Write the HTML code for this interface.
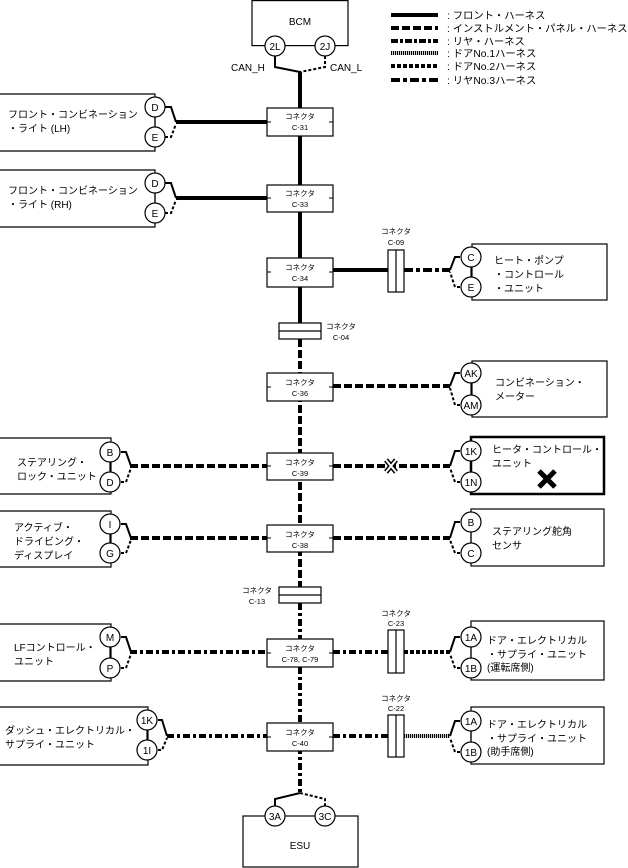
<!DOCTYPE html>
<html><head><meta charset="utf-8"><style>
html,body{margin:0;padding:0;background:#fff}
svg{display:block}
text{font-family:"Liberation Sans","Noto Sans CJK JP",sans-serif;fill:#000}
.t{font-size:10px}
.s{font-size:7.5px}
.c{font-size:10px}
</style></head><body>
<svg width="628" height="868" viewBox="0 0 628 868" xmlns="http://www.w3.org/2000/svg">
<g fill="none" stroke="#000">
<line x1="300" y1="72" x2="300" y2="323" stroke-width="4"/>
<line x1="300" y1="339" x2="300" y2="587" stroke-width="4" stroke-dasharray="8,3"/>
<line x1="300" y1="603" x2="300" y2="793" stroke-width="4" stroke-dasharray="7,3,3,3"/>
<path d="M275,56 V67 L300,72" stroke-width="2"/>
<path d="M325,56 V67 L300,72" stroke-width="2" stroke-dasharray="3,2"/>
<path d="M300,793 L275,799 V806" stroke-width="2"/>
<path d="M300,793 L325,799 V806" stroke-width="2" stroke-dasharray="3,2"/>
<line x1="176" y1="122" x2="267" y2="122" stroke-width="4"/>
<line x1="176" y1="198" x2="267" y2="198" stroke-width="4"/>
<line x1="333" y1="270" x2="388" y2="270" stroke-width="4"/>
<line x1="404" y1="270" x2="450" y2="270" stroke-width="4" stroke-dasharray="9,3,4,3"/>
<line x1="333" y1="386" x2="450" y2="386" stroke-width="4" stroke-dasharray="8,3"/>
<line x1="130" y1="466" x2="267" y2="466" stroke-width="4" stroke-dasharray="8,3"/>
<line x1="333" y1="466" x2="450" y2="466" stroke-width="4" stroke-dasharray="8,3"/>
<line x1="130" y1="538" x2="267" y2="538" stroke-width="4" stroke-dasharray="8,3"/>
<line x1="333" y1="538" x2="450" y2="538" stroke-width="4" stroke-dasharray="8,3"/>
<line x1="130" y1="652" x2="267" y2="652" stroke-width="4" stroke-dasharray="7,3,3,3"/>
<line x1="333" y1="652" x2="388" y2="652" stroke-width="4" stroke-dasharray="7,3,3,3"/>
<line x1="404" y1="652" x2="450" y2="652" stroke-width="4" stroke-dasharray="4,2"/>
<line x1="167" y1="736" x2="267" y2="736" stroke-width="4" stroke-dasharray="7,3,3,3"/>
<line x1="333" y1="736" x2="388" y2="736" stroke-width="4" stroke-dasharray="7,3,3,3"/>
<line x1="404" y1="736" x2="450" y2="736" stroke-width="4" stroke-dasharray="1.2,0.8"/>
<line x1="391" y1="15" x2="438" y2="15" stroke-width="4"/>
<line x1="391" y1="28" x2="438" y2="28" stroke-width="4" stroke-dasharray="8,3"/>
<line x1="391" y1="41" x2="438" y2="41" stroke-width="4" stroke-dasharray="7,2,3,2"/>
<line x1="391" y1="53" x2="438" y2="53" stroke-width="4" stroke-dasharray="1.2,0.8"/>
<line x1="391" y1="66" x2="438" y2="66" stroke-width="4" stroke-dasharray="4,2"/>
<line x1="391" y1="80" x2="438" y2="80" stroke-width="4" stroke-dasharray="9,3,4,3"/>
</g>
<g fill="none" stroke="#000" stroke-width="2">
<path d="M165,107 H171 L176,122"/><path d="M165,137 H171 L176,124" stroke-dasharray="3,2"/>
<path d="M165,183 H171 L176,198"/><path d="M165,213 H171 L176,200" stroke-dasharray="3,2"/>
<path d="M121,452 H126 L131,466"/><path d="M121,482 H126 L131,468" stroke-dasharray="3,2"/>
<path d="M121,524 H126 L131,538"/><path d="M121,553 H126 L131,540" stroke-dasharray="3,2"/>
<path d="M121,637 H126 L131,652"/><path d="M121,668 H126 L131,654" stroke-dasharray="3,2"/>
<path d="M158,720 H162 L167,736"/><path d="M158,750 H162 L167,738" stroke-dasharray="3,2"/>
<path d="M460,257 H455 L450,270"/><path d="M460,287 H455 L450,272" stroke-dasharray="3,2"/>
<path d="M460,373 H455 L450,386"/><path d="M460,405 H455 L450,388" stroke-dasharray="3,2"/>
<path d="M460,451 H455 L450,466"/><path d="M460,482 H455 L450,468" stroke-dasharray="3,2"/>
<path d="M460,522 H455 L450,538"/><path d="M460,553 H455 L450,540" stroke-dasharray="3,2"/>
<path d="M460,637 H455 L450,652"/><path d="M460,668 H455 L450,654" stroke-dasharray="3,2"/>
<path d="M460,721 H455 L450,736"/><path d="M460,752 H455 L450,738" stroke-dasharray="3,2"/>
</g>
<g fill="none" stroke="#000" stroke-width="1.2">
<rect x="252" y="0.6" width="96" height="45"/>
<rect x="243" y="816" width="115" height="51"/>
<path d="M0,94 H155 V151 H0"/>
<path d="M0,170 H155 V227 H0"/>
<path d="M0,438 H111 V494 H0"/>
<path d="M0,511 H111 V567 H0"/>
<path d="M0,624 H111 V681 H0"/>
<path d="M0,707 H148 V765 H0"/>
<rect x="472" y="244" width="135" height="56"/>
<rect x="472" y="361" width="135" height="56"/>
<rect x="471" y="509" width="133" height="57"/>
<rect x="471" y="621" width="133" height="59"/>
<rect x="471" y="707" width="133" height="57"/>
</g>
<rect x="471" y="437" width="133" height="57" fill="none" stroke="#000" stroke-width="2.5"/>
<g stroke="#000" stroke-width="1.2">
<line x1="155" y1="107" x2="155" y2="137"/><line x1="155" y1="183" x2="155" y2="213"/>
<line x1="110" y1="452" x2="110" y2="482"/><line x1="110" y1="524" x2="110" y2="553"/>
<line x1="110" y1="637" x2="110" y2="668"/><line x1="147" y1="720" x2="147" y2="750"/>
<line x1="471" y1="257" x2="471" y2="287"/><line x1="471" y1="373" x2="471" y2="405"/>
<line x1="471" y1="451" x2="471" y2="482"/><line x1="471" y1="522" x2="471" y2="553"/>
<line x1="471" y1="637" x2="471" y2="668"/><line x1="471" y1="721" x2="471" y2="752"/>
</g>
<g fill="#fff" stroke="#000" stroke-width="1.2">
<rect x="267" y="108" width="66" height="28"/>
<rect x="267" y="185" width="66" height="27"/>
<rect x="267" y="258" width="66" height="29"/>
<rect x="267" y="373" width="66" height="28"/>
<rect x="267" y="453" width="66" height="27"/>
<rect x="267" y="525" width="66" height="27"/>
<rect x="267" y="639" width="66" height="28"/>
<rect x="267" y="723" width="66" height="28"/>
<rect x="279" y="323" width="42" height="16"/><line x1="279" y1="331" x2="321" y2="331"/>
<rect x="279" y="587" width="42" height="16"/><line x1="279" y1="595" x2="321" y2="595"/>
<rect x="388" y="250" width="16" height="42"/><line x1="396" y1="250" x2="396" y2="292"/>
<rect x="388" y="630" width="16" height="43"/><line x1="396" y1="630" x2="396" y2="673"/>
<rect x="388" y="715" width="16" height="42"/><line x1="396" y1="715" x2="396" y2="757"/>
</g>
<g stroke="#000" stroke-width="1">
<path d="M267,122h4M329,122h4M267,198h4M329,198h4M267,272h4M329,272h4M267,387h4M329,387h4M267,466h4M329,466h4M267,538h4M329,538h4M267,653h4M329,653h4M267,737h4M329,737h4"/>
</g>
<g fill="#fff" stroke="#000" stroke-width="1.2">
<circle cx="275" cy="46" r="10"/><circle cx="325" cy="46" r="10"/>
<circle cx="275" cy="816" r="10"/><circle cx="325" cy="816" r="10"/>
<circle cx="155" cy="107" r="10"/><circle cx="155" cy="137" r="10"/>
<circle cx="155" cy="183" r="10"/><circle cx="155" cy="213" r="10"/>
<circle cx="110" cy="452" r="10"/><circle cx="110" cy="482" r="10"/>
<circle cx="110" cy="524" r="10"/><circle cx="110" cy="553" r="10"/>
<circle cx="110" cy="637" r="10"/><circle cx="110" cy="668" r="10"/>
<circle cx="147" cy="720" r="10"/><circle cx="147" cy="750" r="10"/>
<circle cx="471" cy="257" r="10"/><circle cx="471" cy="287" r="10"/>
<circle cx="471" cy="373" r="10"/><circle cx="471" cy="405" r="10"/>
<circle cx="471" cy="451" r="10"/><circle cx="471" cy="482" r="10"/>
<circle cx="471" cy="522" r="10"/><circle cx="471" cy="553" r="10"/>
<circle cx="471" cy="637" r="10"/><circle cx="471" cy="668" r="10"/>
<circle cx="471" cy="721" r="10"/><circle cx="471" cy="752" r="10"/>
</g>
<g stroke="#000" stroke-width="5">
<line x1="386" y1="460" x2="396" y2="472"/><line x1="396" y1="460" x2="386" y2="472"/>
</g>
<g stroke="#fff" stroke-width="2">
<line x1="386" y1="460" x2="396" y2="472"/><line x1="396" y1="460" x2="386" y2="472"/>
</g>
<g stroke="#000" stroke-width="5">
<line x1="539" y1="471" x2="555" y2="487"/><line x1="555" y1="471" x2="539" y2="487"/>
</g>
<g class="c" text-anchor="middle">
<text x="275" y="50">2L</text><text x="325" y="50">2J</text>
<text x="275" y="820">3A</text><text x="325" y="820">3C</text>
<text x="155" y="111">D</text><text x="155" y="141">E</text>
<text x="155" y="187">D</text><text x="155" y="217">E</text>
<text x="110" y="456">B</text><text x="110" y="486">D</text>
<text x="110" y="528">I</text><text x="110" y="557">G</text>
<text x="110" y="641">M</text><text x="110" y="672">P</text>
<text x="147" y="724">1K</text><text x="147" y="754">1I</text>
<text x="471" y="261">C</text><text x="471" y="291">E</text>
<text x="471" y="377">AK</text><text x="471" y="409">AM</text>
<text x="471" y="455">1K</text><text x="471" y="486">1N</text>
<text x="471" y="526">B</text><text x="471" y="557">C</text>
<text x="471" y="641">1A</text><text x="471" y="672">1B</text>
<text x="471" y="725">1A</text><text x="471" y="756">1B</text>
</g>
<g class="s" text-anchor="middle">
<text x="300" y="119">コネクタ</text><text x="300" y="130">C-31</text>
<text x="300" y="196">コネクタ</text><text x="300" y="207">C-33</text>
<text x="300" y="270">コネクタ</text><text x="300" y="281">C-34</text>
<text x="300" y="385">コネクタ</text><text x="300" y="396">C-36</text>
<text x="300" y="465">コネクタ</text><text x="300" y="476">C-39</text>
<text x="300" y="537">コネクタ</text><text x="300" y="548">C-38</text>
<text x="300" y="651">コネクタ</text><text x="300" y="662">C-78, C-79</text>
<text x="300" y="735">コネクタ</text><text x="300" y="746">C-40</text>
<text x="341" y="329">コネクタ</text><text x="341" y="340">C-04</text>
<text x="257" y="593">コネクタ</text><text x="257" y="604">C-13</text>
<text x="396" y="234">コネクタ</text><text x="396" y="245">C-09</text>
<text x="396" y="616">コネクタ</text><text x="396" y="626">C-23</text>
<text x="396" y="701">コネクタ</text><text x="396" y="711">C-22</text>
</g>
<g class="t">
<text x="300" y="25" text-anchor="middle">BCM</text>
<text x="300" y="849" text-anchor="middle">ESU</text>
<text x="231" y="71">CAN_H</text>
<text x="330" y="71">CAN_L</text>
<text x="8" y="118">フロント・コンビネーション</text><text x="8" y="132">・ライト (LH)</text>
<text x="8" y="194">フロント・コンビネーション</text><text x="8" y="208">・ライト (RH)</text>
<text x="17" y="466">ステアリング・</text><text x="17" y="480">ロック・ユニット</text>
<text x="14" y="531">アクティブ・</text><text x="14" y="545">ドライビング・</text><text x="14" y="559">ディスプレイ</text>
<text x="14" y="651">LFコントロール・</text><text x="14" y="665">ユニット</text>
<text x="5" y="734">ダッシュ・エレクトリカル・</text><text x="5" y="748">サプライ・ユニット</text>
<text x="494" y="264">ヒート・ポンプ</text><text x="494" y="278">・コントロール</text><text x="494" y="292">・ユニット</text>
<text x="495" y="386">コンビネーション・</text><text x="495" y="400">メーター</text>
<text x="492" y="453">ヒータ・コントロール・</text><text x="492" y="467">ユニット</text>
<text x="492" y="535">ステアリング舵角</text><text x="492" y="549">センサ</text>
<text x="487" y="644">ドア・エレクトリカル</text><text x="487" y="658">・サプライ・ユニット</text><text x="487" y="671">(運転席側)</text>
<text x="487" y="728">ドア・エレクトリカル</text><text x="487" y="742">・サプライ・ユニット</text><text x="487" y="755">(助手席側)</text>
</g>
<g font-size="10.3px">
<text x="447" y="19">: フロント・ハーネス</text>
<text x="447" y="32">: インストルメント・パネル・ハーネス</text>
<text x="447" y="45">: リヤ・ハーネス</text>
<text x="447" y="57">: ドアNo.1ハーネス</text>
<text x="447" y="70">: ドアNo.2ハーネス</text>
<text x="447" y="84">: リヤNo.3ハーネス</text>
</g>
</svg>
</body></html>
